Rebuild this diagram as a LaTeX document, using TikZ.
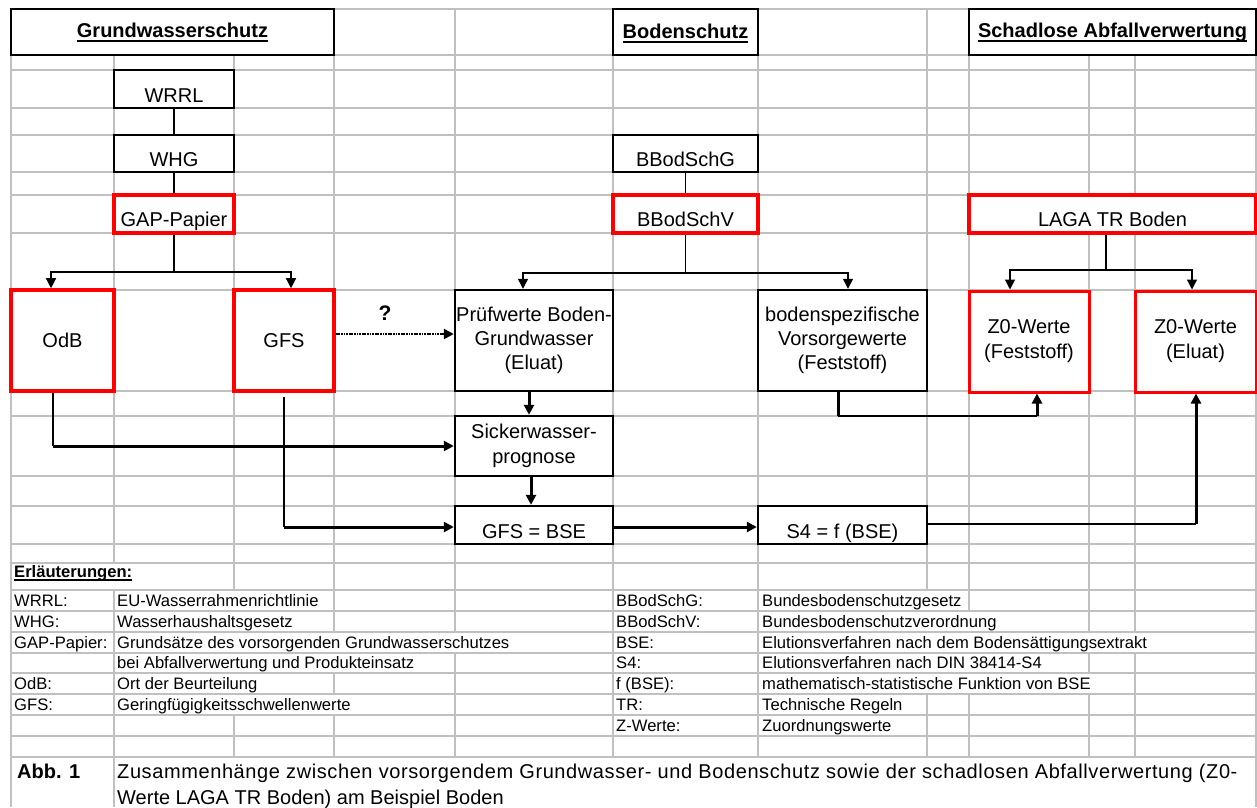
\documentclass[tikz,border=0pt]{standalone}
\usepackage{fontspec}
\setmainfont{Liberation Sans}
\usetikzlibrary{arrows.meta}
\definecolor{gridc}{HTML}{C0C0C0}
\definecolor{redb}{HTML}{FF0000}
\newsavebox\ulbox
\newcommand{\hul}[1]{\sbox\ulbox{#1}\rlap{\rule[-5.1pt]{\wd\ulbox}{2.2pt}}\usebox\ulbox}
\newcommand{\lul}[1]{\sbox\ulbox{#1}\rlap{\rule[-3.7pt]{\wd\ulbox}{1.4pt}}\usebox\ulbox}
\newcommand{\boxfont}{\fontsize{20}{24}\selectfont}
\newcommand{\legfont}{\fontsize{16.6}{19}\selectfont}
\begin{document}
\begin{tikzpicture}[x=1pt,y=-1pt,
  gridl/.style={draw=gridc,line width=1.4pt},
  bbox/.style={draw=black,line width=2.4pt,fill=white,inner xsep=0pt,inner ysep=0pt,font=\boxfont,align=center},
  rbox/.style={bbox,draw=redb,line width=3.6pt},
  zbox/.style={bbox,draw=redb,line width=3pt},
  hdr/.style={bbox,font=\boxfont\bfseries},
  thinl/.style={line width=1.3pt},
  thickl/.style={line width=3pt},
  arr/.style={-{Triangle[width=10pt,length=10pt]}},
  legtxt/.style={anchor=base west,inner sep=0pt,font=\legfont},
  captxt/.style={anchor=base west,inner sep=0pt,font=\fontsize{20}{24}\selectfont}
]
\useasboundingbox (0,0) rectangle (1257,807);
\fill[white] (0,0) rectangle (1257,807);
% grid
\foreach \y in {9,55,70,108,135,172,195,233,290,391,416,476,506,544,563,590,611,632,653,673,694,715,736,757}
  \draw[gridl] (11,\y) -- (1256,\y);
\draw[gridl] (11,9) -- (11,807);
\draw[gridl] (1256,9) -- (1256,807);
\foreach \x in {114,234,334,455,613,758,927,969,1089,1135}
  \draw[gridl] (\x,9) -- (\x,563);
\foreach \yt/\yb/\xs in {563/590/{234,334,455,613,758,927,969,1089,1135},
  590/611/{114,334,455,613,758,969,1089,1135},
  611/632/{114,334,455,613,758,1089,1135},
  632/653/{114,613,758},
  653/673/{114,455,613,758,1089,1135},
  673/694/{114,334,455,613,758,1135},
  694/715/{114,455,613,758,927,969,1089,1135},
  715/736/{114,234,334,455,613,758,927,969,1089,1135},
  736/757/{114,234,334,455,613,758,927,969,1089,1135},
  757/807/{114}}
  \foreach \x in \xs \draw[gridl] (\x,\yt) -- (\x,\yb);

% headers
\node[hdr,minimum width=323pt,text height=28pt,text depth=18pt] (hgw) at (172.5,32) {\hul{Grundwasserschutz}};
\node[hdr,minimum width=145pt,text height=29pt,text depth=17pt] (hbs) at (685.5,32) {\hul{Bodenschutz}};
\node[hdr,minimum width=287pt,text height=28pt,text depth=18pt] (hav) at (1112.5,32) {\hul{Schadlose Abfallverwertung}};

% boxes
\node[bbox,minimum width=120pt,text height=32pt,text depth=6pt] (wrrl) at (174,89) {WRRL};
\node[bbox,minimum width=120pt,text height=31pt,text depth=6pt] (whg) at (174,153.5) {WHG};
\node[rbox,minimum width=120pt,text height=31pt,text depth=7pt] (gap) at (174,214) {GAP-Papier};
\node[bbox,minimum width=145pt,text height=31pt,text depth=6pt] (bbg) at (685.5,153.5) {BBodSchG};
\node[rbox,minimum width=145pt,text height=31pt,text depth=7pt] (bbv) at (685.5,214) {BBodSchV};
\node[rbox,minimum width=287pt,text height=31pt,text depth=7pt] (laga) at (1112.5,214) {LAGA TR Boden};

\node[rbox,minimum width=103pt,minimum height=101pt] (odb) at (62.5,340.5) {OdB};
\node[rbox,minimum width=100pt,minimum height=101pt] (gfs) at (284,340.5) {GFS};
\node[bbox,minimum width=158pt,minimum height=101pt] (pruef) at (534,340.5) {Prüfwerte Boden-\\Grundwasser\\(Eluat)};
\node[bbox,minimum width=158pt,minimum height=60pt,font=\fontsize{20}{25}\selectfont] (sicker) at (534,446) {Sickerwasser-\\prognose};
\node[bbox,minimum width=158pt,text height=32pt,text depth=6pt] (gfsbse) at (534,525) {GFS = BSE};
\node[bbox,minimum width=169pt,minimum height=101pt] (boden) at (842.5,340.5) {bodenspezifische\\Vorsorgewerte\\(Feststoff)};
\node[bbox,minimum width=169pt,text height=32pt,text depth=6pt] (s4) at (842.5,525) {S4 = f (BSE)};
\node[zbox,minimum width=120pt,minimum height=101pt,font=\fontsize{20}{25}\selectfont] (z0f) at (1029,341.5) {Z0-Werte\\(Feststoff)};
\node[zbox,minimum width=121pt,minimum height=101pt,font=\fontsize{20}{25}\selectfont] (z0e) at (1195.5,341.5) {Z0-Werte\\(Eluat)};

% connectors
\coordinate (gf) at (174,272);
\draw[thinl] (wrrl.south) -- (whg.north);
\draw[thinl] (whg.south) -- (gap.north);
\draw[thinl] (gap.south) -- (gf);
\draw[thinl,arr] (gf) -| ([xshift=-11.5pt]odb.north);
\draw[thinl,arr] (gf) -| ([xshift=7pt]gfs.north);

\coordinate (bf) at (685.5,273);
\draw[thinl] (bbg.south) -- (bbv.north);
\draw[thinl] (bbv.south) -- (bf);
\draw[thinl,arr] (bf) -| ([xshift=-11pt]pruef.north);
\draw[thinl,arr] (bf) -| ([xshift=5.5pt]boden.north);

\coordinate (lf) at (1106,270);
\draw[thinl] (laga.south -| lf) -- (lf);
\draw[thinl,arr] (lf) -| ([xshift=-19pt]z0f.north);
\draw[thinl,arr] (lf) -| ([xshift=-3.5pt]z0e.north);

\draw[line width=2.8pt,dash pattern=on 1.8pt off 0.8pt,arr] ([yshift=6.5pt]gfs.east) -- ([yshift=6.5pt]pruef.west);
\node[font=\fontsize{21}{24}\selectfont\bfseries,inner sep=0pt] (q) at (385,313) {?};

\draw[thickl,arr] ([xshift=-5pt]pruef.south) -- ([xshift=-5pt]sicker.north);
\draw[thickl,arr] ([xshift=-3pt]sicker.south) -- ([xshift=-3pt]gfsbse.north);

\coordinate (oc) at (53,446);
\draw[thinl] (odb.south -| oc) -- (oc);
\draw[thickl,arr] (oc) -- (sicker.west);

\coordinate (gs) at (284,397);
\coordinate (gc) at (284,527);
\draw[thinl] (gs) -- (gc);
\draw[thickl,arr] (gc) -- (gfsbse.west |- gc);
\draw[thickl,arr] ([yshift=-2pt]gfsbse.east) -- ([yshift=-2pt]s4.west);

\coordinate (ba) at (838,416);
\coordinate (bb) at (1037,416);
\draw[thickl] (boden.south -| ba) -- (ba);
\draw[thinl] (ba) -- (bb);
\draw[thickl,arr] (bb) -- (z0f.south -| bb);

\coordinate (sc) at (1196,524);
\draw[thinl] (s4.east |- sc) -- (sc);
\draw[thickl,arr] (sc) -- (z0e.south -| sc);

% legend
\node[legtxt,font=\legfont\bfseries] (erl) at (14,577) {\lul{Erläuterungen:}};
\node[legtxt] (l1a) at (14,606.5) {WRRL:};
\node[legtxt] (l1b) at (117,606.5) {EU-Wasserrahmenrichtlinie};
\node[legtxt] (l2a) at (14,627.5) {WHG:};
\node[legtxt] (l2b) at (117,627.5) {Wasserhaushaltsgesetz};
\node[legtxt] (l3a) at (14,648.5) {GAP-Papier:};
\node[legtxt] (l3b) at (117,648.5) {Grundsätze des vorsorgenden Grundwasserschutzes};
\node[legtxt] (l4b) at (117,668.5) {bei Abfallverwertung und Produkteinsatz};
\node[legtxt] (l5a) at (14,689.5) {OdB:};
\node[legtxt] (l5b) at (117,689.5) {Ort der Beurteilung};
\node[legtxt] (l6a) at (14,710.5) {GFS:};
\node[legtxt] (l6b) at (117,710.5) {Geringfügigkeitsschwellenwerte};

\node[legtxt] (r1a) at (616,606.5) {BBodSchG:};
\node[legtxt] (r1b) at (762,606.5) {Bundesbodenschutzgesetz};
\node[legtxt] (r2a) at (616,627.5) {BBodSchV:};
\node[legtxt] (r2b) at (762,627.5) {Bundesbodenschutzverordnung};
\node[legtxt] (r3a) at (616,648.5) {BSE:};
\node[legtxt] (r3b) at (762,648.5) {Elutionsverfahren nach dem Bodensättigungsextrakt};
\node[legtxt] (r4a) at (616,668.5) {S4:};
\node[legtxt] (r4b) at (762,668.5) {Elutionsverfahren nach DIN 38414-S4};
\node[legtxt] (r5a) at (616,689.5) {f (BSE):};
\node[legtxt] (r5b) at (762,689.5) {mathematisch-statistische Funktion von BSE};
\node[legtxt] (r6a) at (616,710.5) {TR:};
\node[legtxt] (r6b) at (762,710.5) {Technische Regeln};
\node[legtxt] (r7a) at (616,731.5) {Z-Werte:};
\node[legtxt] (r7b) at (762,731.5) {Zuordnungswerte};

% caption
\node[captxt,font=\fontsize{20}{24}\selectfont\bfseries] (abb) at (17,778) {Abb. 1};
\node[captxt,font=\fontsize{20}{24}\selectfont\addfontfeatures{LetterSpace=3}] (c1) at (117,778) {Zusammenhänge zwischen vorsorgendem Grundwasser- und Bodenschutz sowie der schadlosen Abfallverwertung (Z0-};
\node[captxt] (c2) at (117,804) {Werte LAGA TR Boden) am Beispiel Boden};
\end{tikzpicture}
\end{document}
